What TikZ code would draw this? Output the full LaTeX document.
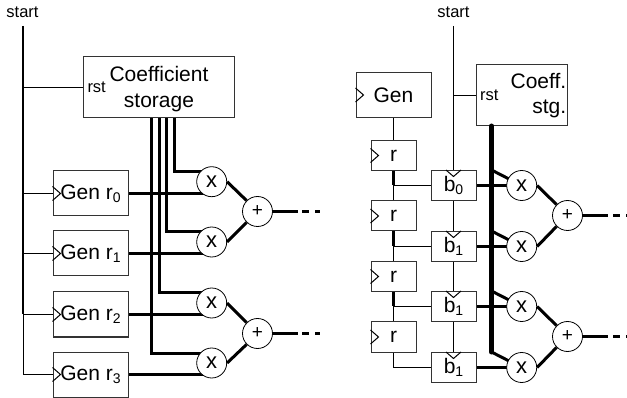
\documentclass[tikz,border=0pt]{standalone}
\usepackage{fontspec}
\setmainfont{Liberation Sans}
\usetikzlibrary{arrows.meta,calc,backgrounds}
\newcommand{\subtxt}[1]{\raisebox{-3.5pt}{\fontsize{14}{14}\selectfont #1}}
\newcommand{\clkmark}[1]{\draw[wire] ($(#1.west)+(0,-7)$) -- ++(8,7) -- ++(-8,7);}
\newcommand{\clktop}[1]{\draw[wire] ($(#1.north)+(-7.5,0)$) -- ++(7.5,6.5) -- ++(7.5,-6.5);}
\tikzset{
  block/.style={draw=black!80, line width=1pt, fill=white, inner sep=0pt, align=center,
    font=\fontsize{21}{25.5}\selectfont},
  genbox/.style={block, minimum width=75, minimum height=45},
  regbox/.style={block, minimum width=45, minimum height=30},
  storebox/.style={block, minimum height=61},
  mulop/.style={circle, draw=black, line width=0.8pt, fill=white, inner sep=0pt, minimum size=30,
    font=\fontsize{22}{22}\selectfont},
  addop/.style={mulop, font=\fontsize{19}{19}\selectfont},
  lbl/.style={inner sep=0pt, font=\fontsize{16.5}{16.5}\selectfont},
  wire/.style={draw=black, line width=1pt},
  ctrl/.style={draw=black, line width=2pt},
  bus/.style={draw=black, line width=3pt},
  mainbus/.style={draw=black, line width=5pt, line cap=round},
  trail/.style={bus, dash pattern=on 6.5 off 6.5},
}
\begin{document}
\begin{tikzpicture}[x=1pt, y=-1pt]
    \useasboundingbox (0,0) rectangle (627,398);
    % direct-form side: start line, storage, generators
    \node[lbl] (startA) at (22.5,12) {start};
    \coordinate (topA) at (23,26);
    \node[storebox, minimum width=151] (coef) at (159,87) {\rule{0pt}{19pt}Coefficient\\storage};
    \node[lbl, anchor=west] (rstA) at (87.3,87.5) {rst};
    \node[genbox] (gen0) at (90.5,193.5) {Gen r\subtxt{0}};
    \node[genbox] (gen1) at (90.5,253.5) {Gen r\subtxt{1}};
    \node[genbox] (gen2) at (90.5,314.5) {Gen r\subtxt{2}};
    \node[genbox] (gen3) at (90.5,374.5) {Gen r\subtxt{3}};
    \node[mulop] (mulA0) at (211.7,181.7) {x};
    \node[mulop] (mulA1) at (211.7,242) {x};
    \node[mulop] (mulA2) at (211.7,303) {x};
    \node[mulop] (mulA3) at (211.7,363) {x};
    \node[addop] (addA0) at (257.5,211.5) {+};
    \node[addop] (addA1) at (257.5,333.5) {+};
    \coordinate (tailA0) at (298,211.5);
    \coordinate (tailA1) at (298,333.5);
    \coordinate (endA0) at (320,211.5);
    \coordinate (endA1) at (320,333.5);
    \draw[ctrl] (topA) -- (topA |- gen2.west);
    \draw[wire] (topA |- gen2.west) |- (gen3.west);
    \draw[wire] (topA |- rstA.west) -- (rstA.west -| coef.west);
    \draw[wire] (topA |- gen0.west) -- (gen0.west);
    \draw[wire] (topA |- gen1.west) -- (gen1.west);
    \draw[wire] (topA |- gen2.west) -- (gen2.west);
    \clkmark{gen0} \clkmark{gen1} \clkmark{gen2} \clkmark{gen3}
    \begin{scope}[on background layer]
      \draw[bus] ($(coef.south)+(15.5,0)$) |- ($(mulA0.center)+(0,-10.2)$);
      \draw[bus] ($(coef.south)+(7.5,0)$) |- ($(mulA1.center)+(0,-10.5)$);
      \draw[bus] ($(coef.south)+(0.5,0)$) |- ($(mulA2.center)+(0,-10.5)$);
      \draw[bus] ($(coef.south)+(-7.5,0)$) |- ($(mulA3.center)+(0,-9.5)$);
      \draw[bus] (gen0.east) -- (gen0.east -| mulA0.center);
      \draw[bus] (gen1.east) -- (gen1.east -| mulA1.center);
      \draw[bus] (gen2.east) -- (gen2.east -| mulA2.center);
      \draw[bus] (gen3.east) -- (gen3.east -| mulA3.center);
    \end{scope}
    \draw[bus] (mulA0.east) -- (addA0.north west);
    \draw[bus] (mulA1.east) -- (addA0.south west);
    \draw[bus] (mulA2.east) -- (addA1.north west);
    \draw[bus] (mulA3.east) -- (addA1.south west);
    \draw[bus] (addA0.east) -- (tailA0);
    \draw[bus] (addA1.east) -- (tailA1);
    \draw[trail] ($(tailA0)+(4,0)$) -- (endA0);
    \draw[trail] ($(tailA1)+(4,0)$) -- (endA1);
    % shared-generator side: gen chain and b registers
    \node[lbl] (startB) at (453.5,12) {start};
    \coordinate (topB) at (453.5,26);
    \node[storebox, minimum width=90.5, text width=88.5, align=right] (stg) at (522,95.5) {Coeff.\\stg.};
    \node[lbl, anchor=west] (rstB) at (480,95.5) {rst};
    \node[genbox] (gen) at (393.5,95) {Gen};
    \node[regbox] (r0) at (393.5,155.5) {r};
    \node[regbox] (r1) at (393.5,216) {r};
    \node[regbox] (r2) at (393.5,276.5) {r};
    \node[regbox] (r3) at (393.5,337) {r};
    \node[regbox] (b0) at (453.5,185.5) {b\subtxt{0}};
    \node[regbox] (b1) at (453.5,246.5) {b\subtxt{1}};
    \node[regbox] (b2) at (453.5,306.5) {b\subtxt{1}};
    \node[regbox] (b3) at (453.5,367.5) {b\subtxt{1}};
    \node[mulop] (mulB0) at (521.7,185.5) {x};
    \node[mulop] (mulB1) at (521.7,246.5) {x};
    \node[mulop] (mulB2) at (521.7,306.5) {x};
    \node[mulop] (mulB3) at (521.7,367.5) {x};
    \node[addop] (addB0) at (567.5,215.5) {+};
    \node[addop] (addB1) at (567.5,336.5) {+};
    \coordinate (tailB0) at (608,215.5);
    \coordinate (tailB1) at (608,336.5);
    \coordinate (endB0) at (627,215.5);
    \coordinate (endB1) at (627,336.5);
    \coordinate (busTop) at (491.5,126);
    \coordinate (busEnd) at (491.5,352);
    \draw[wire] (topB) -- (b0.north);
    \draw[wire] (topB |- stg.west) -- (stg.west);
    \draw[wire] (gen.south) -- (r0.north);
    \draw[bus] (r0.south) -- (r0.south |- b0.west);
    \draw[bus] (r1.south) -- (r1.south |- b1.west);
    \draw[bus] (r2.south) -- (r2.south |- b2.west);
    \draw[wire] (r0.south |- b0.west) -- (b0.west);
    \draw[wire] (r1.south |- b1.west) -- (b1.west);
    \draw[wire] (r2.south |- b2.west) -- (b2.west);
    \draw[wire] (r3.south) |- (b3.west);
    \draw[wire] (r0.south |- b0.west) -- (r1.north);
    \draw[wire] (r1.south |- b1.west) -- (r2.north);
    \draw[wire] (r2.south |- b2.west) -- (r3.north);
    \draw[wire] (b0.south) -- (b1.north);
    \draw[wire] (b1.south) -- (b2.north);
    \draw[wire] (b2.south) -- (b3.north);
    \clkmark{gen} \clkmark{r0} \clkmark{r1} \clkmark{r2} \clkmark{r3}
    \clktop{b0} \clktop{b1} \clktop{b2} \clktop{b3}
    \begin{scope}[on background layer]
      \draw[bus] (b0.east) -- (mulB0.center);
      \draw[bus] (b1.east) -- (mulB1.center);
      \draw[bus] (b2.east) -- (mulB2.center);
      \draw[bus] (b3.east) -- (mulB3.center);
      \draw[bus] (busTop |- b0.north) -- (mulB0.center);
      \draw[bus] (busTop |- b1.north) -- (mulB1.center);
      \draw[bus] (busTop |- b2.north) -- (mulB2.center);
      \draw[bus] (busEnd) -- (mulB3.center);
    \end{scope}
    \draw[mainbus] (busTop) -- (busEnd);
    \draw[bus] (mulB0.east) -- (addB0.north west);
    \draw[bus] (mulB1.east) -- (addB0.south west);
    \draw[bus] (mulB2.east) -- (addB1.north west);
    \draw[bus] (mulB3.east) -- (addB1.south west);
    \draw[bus] (addB0.east) -- (tailB0);
    \draw[bus] (addB1.east) -- (tailB1);
    \draw[trail] ($(tailB0)+(5,0)$) -- (endB0);
    \draw[trail] ($(tailB1)+(5,0)$) -- (endB1);
  \end{tikzpicture}
\end{document}
